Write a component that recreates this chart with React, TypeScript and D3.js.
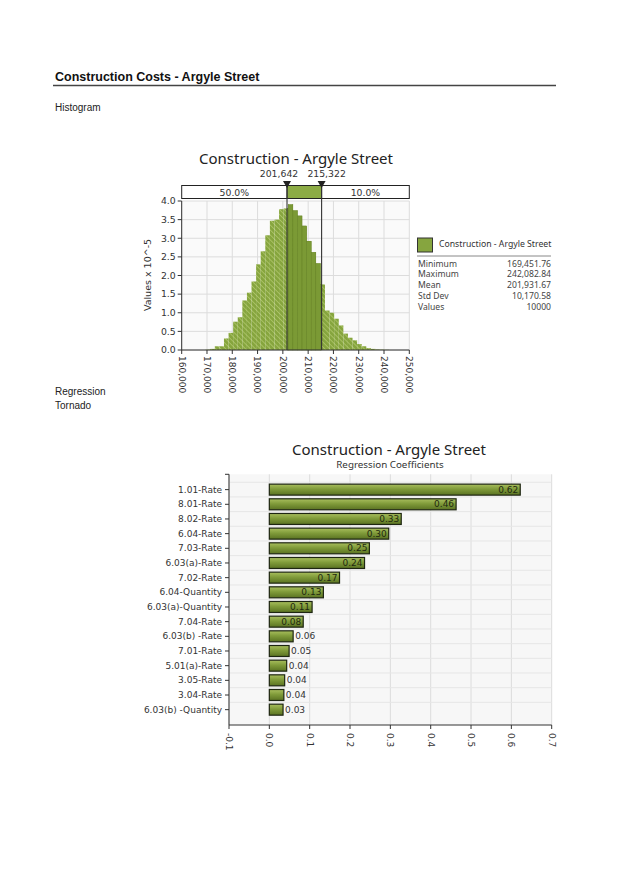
import * as React from "react";
import * as d3 from "d3";

// histogram densities (Values x 10^-5), one per bin from min to max
const histDensity = [
  0.01, 0.03, 0.1, 0.1, 0.31, 0.46, 0.76, 0.88, 1.33, 1.54, 1.84, 2.3, 2.65,
  3.08, 3.47, 3.5, 3.78, 3.8, 3.9, 3.74, 3.6, 3.33, 2.92, 2.62, 2.32, 1.76,
  1.06, 1.0, 0.84, 0.66, 0.44, 0.33, 0.26, 0.16, 0.1, 0.05, 0.03, 0.015, 0.01, 0.005,
];
const histMin = 169451.76;
const histMax = 242082.84;
const histXTicks = [160000, 170000, 180000, 190000, 200000, 210000, 220000, 230000, 240000, 250000];
const histYTicks = [0, 0.5, 1, 1.5, 2, 2.5, 3, 3.5, 4];
const delimiters = [201642, 215322];
const delimiterPcts = ["50.0%", "40.0%", "10.0%"];

const statLabels = ["Minimum", "Maximum", "Mean", "Std Dev", "Values"];
const statValues = ["169,451.76", "242,082.84", "201,931.67", "10,170.58", "10000"];

const tornadoLabels = [
  "1.01-Rate", "8.01-Rate", "8.02-Rate", "6.04-Rate", "7.03-Rate", "6.03(a)-Rate",
  "7.02-Rate", "6.04-Quantity", "6.03(a)-Quantity", "7.04-Rate", "6.03(b) -Rate",
  "7.01-Rate", "5.01(a)-Rate", "3.05-Rate", "3.04-Rate", "6.03(b) -Quantity",
];
const tornadoValues = [
  0.622, 0.463, 0.327, 0.296, 0.248, 0.236, 0.174, 0.134, 0.106, 0.084, 0.059,
  0.049, 0.043, 0.038, 0.036, 0.034,
];
const tornadoTicks = [-0.1, 0, 0.1, 0.2, 0.3, 0.4, 0.5, 0.6, 0.7];

const TITLE_FONT = "'Noto Sans', sans-serif";
const TICK_FONT = "'DejaVu Sans', sans-serif";
const PAGE_FONT = "'Liberation Sans', Arial, sans-serif";

const Histogram = () => {
  const x = d3.scaleLinear().domain([160000, 250000]).range([181.7, 409.3]);
  const y = d3.scaleLinear().domain([0, 4]).range([350, 201]);
  const binW = (histMax - histMin) / histDensity.length;
  const fmt = d3.format(",");
  const [d0, d1] = delimiters.map((d) => x(d));
  const boxTop = 185.5;
  const boxBot = 198.5;

  const bars = (fill: string, stroke: string) =>
    histDensity.map((v, i) => {
      const x0 = x(histMin + i * binW);
      const x1 = x(histMin + (i + 1) * binW);
      return (
        <rect key={i} x={x0} y={y(v)} width={x1 - x0} height={y(0) - y(v)}
          fill={fill} stroke={stroke} strokeWidth={0.5} />
      );
    });

  return (
    <g>
      <defs>
        <pattern id="hatch" patternUnits="userSpaceOnUse" width={3.5} height={3.5}
          patternTransform="rotate(-45)">
          <rect width={3.5} height={3.5} fill="#86a53e" />
          <line x1={0} y1={0} x2={0} y2={3.5} stroke="#afc66b" strokeWidth={1.6} />
        </pattern>
        <clipPath id="midClip">
          <rect x={d0} y={195} width={d1 - d0} height={160} />
        </clipPath>
      </defs>
      <text x={296} y={164} textAnchor="middle" fontFamily={TITLE_FONT} fontSize={15} fill="#222">
        Construction - Argyle Street
      </text>

      {/* plot background and grid */}
      <rect x={x.range()[0]} y={y(4)} width={x.range()[1] - x.range()[0]} height={y(0) - y(4)} fill="#fafafa" />
      {histXTicks.map((t) => (
        <line key={t} x1={x(t)} x2={x(t)} y1={y(4)} y2={y(0)} stroke="#dcdcdc" />
      ))}
      {histYTicks.map((t) => (
        <line key={t} x1={x.range()[0]} x2={x.range()[1]} y1={y(t)} y2={y(t)} stroke="#dcdcdc" />
      ))}

      {bars("url(#hatch)", "none")}
      <g clipPath="url(#midClip)">{bars("#7b9a35", "#678327")}</g>

      {/* axes */}
      <line x1={x.range()[0]} x2={x.range()[0]} y1={y(4)} y2={y(0)} stroke="#333" />
      <line x1={x.range()[0]} x2={x.range()[1]} y1={y(0)} y2={y(0)} stroke="#333" />
      {histYTicks.map((t) => (
        <g key={t}>
          <line x1={x.range()[0] - 4} x2={x.range()[0]} y1={y(t)} y2={y(t)} stroke="#333" />
          <text x={x.range()[0] - 6} y={y(t)} dy="0.35em" textAnchor="end"
            fontFamily={TICK_FONT} fontSize={9.3} fill="#333">{t.toFixed(1)}</text>
        </g>
      ))}
      {histXTicks.map((t) => (
        <g key={t}>
          <line x1={x(t)} x2={x(t)} y1={y(0)} y2={y(0) + 4} stroke="#333" />
          <text transform={`translate(${x(t)},${y(0) + 6}) rotate(90)`} dy="0.35em"
            fontFamily={TICK_FONT} fontSize={9} fill="#333">{fmt(t)}</text>
        </g>
      ))}
      <text transform={`translate(151,275) rotate(-90)`} textAnchor="middle"
        fontFamily={TICK_FONT} fontSize={9.5} fill="#333">Values x 10^-5</text>

      {/* delimiter box */}
      <rect x={x.range()[0]} y={boxTop} width={x.range()[1] - x.range()[0]} height={boxBot - boxTop}
        fill="#fff" stroke="#222" />
      <rect x={d0} y={boxTop} width={d1 - d0} height={boxBot - boxTop} fill="#8cab45" stroke="#222" />
      <text x={(x.range()[0] + d0) / 2} y={195.5} textAnchor="middle" fontFamily={TICK_FONT}
        fontSize={9.3} fill="#333">{delimiterPcts[0]}</text>
      <text x={(d1 + x.range()[1]) / 2} y={195.5} textAnchor="middle" fontFamily={TICK_FONT}
        fontSize={9.3} fill="#333">{delimiterPcts[2]}</text>
      {[d0, d1].map((dx, i) => (
        <g key={i}>
          <line x1={dx} x2={dx} y1={boxTop} y2={y(0)} stroke="#333" strokeWidth={1.1} />
          <path d={`M${dx - 4},${181}L${dx + 4},${181}L${dx},${188}Z`} fill="#222" />
          <text x={i === 0 ? dx - 8 : dx + 5} y={176.5} textAnchor="middle"
            fontFamily={TICK_FONT} fontSize={9.3} fill="#333">{fmt(delimiters[i])}</text>
        </g>
      ))}

      {/* legend */}
      <rect x={417.5} y={238} width={15} height={14} fill="#86a53f" stroke="#333" />
      <text x={439} y={247} fontFamily={TITLE_FONT} fontSize={8.7} fill="#333">
        Construction - Argyle Street
      </text>
      <line x1={417} x2={551} y1={256} y2={256} stroke="#888" />
      {statLabels.map((s, i) => (
        <g key={s} fontFamily={TITLE_FONT} fontSize={8.6} fill="#444">
          <text x={418} y={266.5 + i * 10.8}>{s}</text>
          <text x={551} y={266.5 + i * 10.8} textAnchor="end">{statValues[i]}</text>
        </g>
      ))}
    </g>
  );
};

const Tornado = () => {
  const x = d3.scaleLinear().domain([-0.1, 0.7]).range([229, 551.7]);
  const y = d3.scaleBand<string>().domain(tornadoLabels).range([474.3, 725])
    .paddingInner(0.25).paddingOuter(0.67);
  const top = 474.3;
  const bot = 725;
  const step = y.step();
  const bw = y.bandwidth();

  return (
    <g>
      <defs>
        <linearGradient id="barGrad" x1="0" x2="0" y1="0" y2="1">
          <stop offset="0" stopColor="#a9bf5e" />
          <stop offset="0.45" stopColor="#809b3a" />
          <stop offset="1" stopColor="#5a7222" />
        </linearGradient>
      </defs>
      <text x={389} y={455} textAnchor="middle" fontFamily={TITLE_FONT} fontSize={15} fill="#222">
        Construction - Argyle Street
      </text>
      <text x={390} y={467.5} textAnchor="middle" fontFamily={TITLE_FONT} fontSize={9.8} fill="#333">
        Regression Coefficients
      </text>

      <rect x={x(-0.1)} y={top} width={x(0.7) - x(-0.1)} height={bot - top} fill="#f7f7f7" />
      {tornadoTicks.map((t) => (
        <line key={t} x1={x(t)} x2={x(t)} y1={top} y2={bot} stroke="#dcdcdc" />
      ))}
      {tornadoLabels.map((l) => (
        <line key={l} x1={x(-0.1)} x2={x(0.7)} y1={(y(l) ?? 0) - (step - bw) / 2}
          y2={(y(l) ?? 0) - (step - bw) / 2} stroke="#e6e6e6" />
      ))}

      {tornadoLabels.map((l, i) => {
        const v = tornadoValues[i];
        const yy = y(l) ?? 0;
        const inside = v >= 0.08;
        return (
          <g key={l}>
            <rect x={x(0)} y={yy} width={x(v) - x(0)} height={bw} fill="url(#barGrad)"
              stroke="#1e2612" strokeWidth={1.2} />
            <text x={inside ? x(v) - 2 : x(v) + 2} y={yy + bw / 2} dy="0.35em"
              textAnchor={inside ? "end" : "start"} fontFamily={TICK_FONT} fontSize={9}
              fill={inside ? "#1f2a10" : "#333"}>{v.toFixed(2)}</text>
            <line x1={x(-0.1) - 4} x2={x(-0.1)} y1={yy + bw / 2} y2={yy + bw / 2} stroke="#333" />
            <text x={x(-0.1) - 7} y={yy + bw / 2} dy="0.35em" textAnchor="end"
              fontFamily={TICK_FONT} fontSize={9} fill="#333">{l}</text>
          </g>
        );
      })}

      <line x1={x(-0.1)} x2={x(-0.1)} y1={top} y2={bot} stroke="#333" />
      <line x1={x(-0.1) - 4} x2={x(-0.1)} y1={top} y2={top} stroke="#333" />
      <line x1={x(-0.1)} x2={x(0.7)} y1={bot} y2={bot} stroke="#333" />
      {tornadoTicks.map((t) => (
        <g key={t}>
          <line x1={x(t)} x2={x(t)} y1={bot} y2={bot + 4} stroke="#333" />
          <text transform={`translate(${x(t)},${bot + 8}) rotate(90)`} dy="0.35em"
            fontFamily={TICK_FONT} fontSize={9} fill="#333">{t.toFixed(1)}</text>
        </g>
      ))}
    </g>
  );
};

export default function App() {
  return (
    <svg width={622} height={879} style={{ position: "absolute", left: 0, top: 0, background: "#fff" }}>
      <rect width={622} height={879} fill="#fff" />
      <text x={55} y={81} fontFamily={PAGE_FONT} fontSize={12.5} fontWeight="bold" fill="#111">
        Construction Costs - Argyle Street
      </text>
      <line x1={53} x2={556} y1={85.5} y2={85.5} stroke="#444" strokeWidth={1.6} />
      <text x={55} y={111} fontFamily={PAGE_FONT} fontSize={10} fill="#222">Histogram</text>
      <text x={55} y={395} fontFamily={PAGE_FONT} fontSize={10} fill="#222">Regression</text>
      <text x={55} y={409} fontFamily={PAGE_FONT} fontSize={10} fill="#222">Tornado</text>
      <Histogram />
      <Tornado />
    </svg>
  );
}
